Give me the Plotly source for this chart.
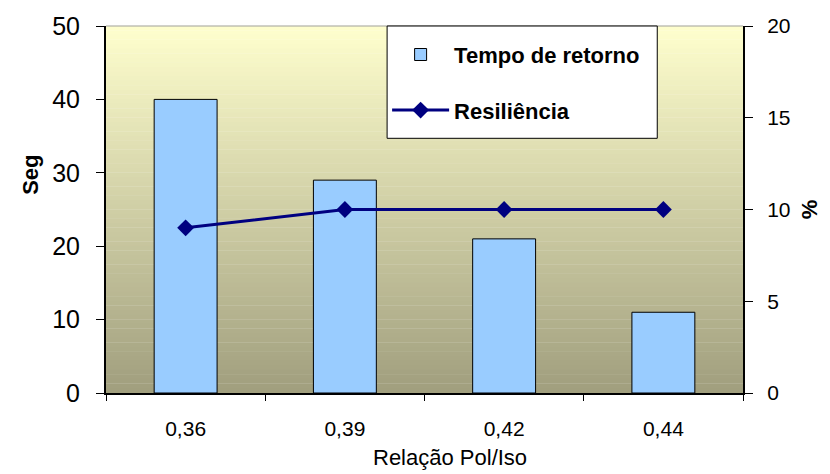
import plotly.graph_objects as go

categories = ["0,36", "0,39", "0,42", "0,44"]
tempo_retorno = [40, 29, 21, 11]
resiliencia = [9, 10, 10, 10]

FONT = "Arial, Liberation Sans, sans-serif"

fig = go.Figure()
fig.add_trace(go.Bar(
    x=categories, y=tempo_retorno, name="<b>Tempo de retorno</b>",
    marker=dict(color="#99CCFF", line=dict(color="#000000", width=1)),
    width=0.395, legendgroup="a",
))
fig.add_trace(go.Scatter(
    x=categories, y=resiliencia, name="<b>Resiliência</b>", yaxis="y2",
    mode="lines+markers",
    line=dict(color="#000080", width=3),
    marker=dict(symbol="diamond", size=13, color="#000080"),
    legendgroup="b",
))

# vertical gradient background for plot area
shapes = []
n = 80
top = (255, 255, 206)
bot = (160, 158, 125)
for i in range(n):
    t = (i + 0.5) / n
    c = tuple(round(top[k] + (bot[k] - top[k]) * t) for k in range(3))
    shapes.append(dict(type="rect", xref="paper", yref="paper",
                       x0=0, x1=1, y0=1 - (i + 1) / n, y1=1 - i / n + 0.001,
                       fillcolor="rgb(%d,%d,%d)" % c, line=dict(width=0),
                       layer="below"))
shapes.append(dict(type="line", xref="paper", yref="paper", x0=0, x1=1, y0=1, y1=1,
                   line=dict(color="#A0A0A0", width=1), layer="below"))
# legend frame
shapes.append(dict(type="rect", xref="paper", yref="paper",
                   x0=0.4413, x1=0.8654, y0=0.694, y1=1.0,
                   fillcolor="white", line=dict(color="black", width=1),
                   layer="below"))

annotations = [
    dict(text="Relação Pol/Iso", xref="paper", yref="paper", x=0.54, y=-0.214,
         xanchor="center", yanchor="bottom", showarrow=False,
         font=dict(size=22, family=FONT, color="black")),
    dict(text="<b>Seg</b>", xref="paper", yref="paper", x=-0.119, y=0.595,
         xanchor="center", yanchor="middle", showarrow=False, textangle=-90,
         font=dict(size=22, family=FONT, color="black")),
]

fig.update_layout(
    width=830, height=474,
    margin=dict(l=106, r=85, t=24, b=81),
    paper_bgcolor="white", plot_bgcolor="rgba(0,0,0,0)",
    font=dict(family=FONT, color="black"),
    shapes=shapes,
    annotations=annotations,
    xaxis=dict(
        type="category", tickson="boundaries", ticks="outside", ticklen=6,
        tickcolor="black", tickwidth=1,
        showline=True, linecolor="black", linewidth=2,
        tickfont=dict(size=21), ticklabelstandoff=16,
        showgrid=False, range=[-0.5, 3.5],
    ),
    yaxis=dict(
        range=[0, 50], dtick=10, ticks="outside", ticklen=8, tickcolor="black",
        showline=True, linecolor="black", linewidth=2, showgrid=False,
        zeroline=False, tickfont=dict(size=25), ticklabelstandoff=11,
    ),
    yaxis2=dict(
        range=[0, 20], dtick=5, ticks="outside", ticklen=8, tickcolor="black",
        showline=True, linecolor="black", linewidth=2, showgrid=False,
        zeroline=False, overlaying="y", side="right", tickfont=dict(size=21),
        ticklabelstandoff=10,
        title=dict(text="<b>%</b>", font=dict(size=22), standoff=12),
    ),
    legend=dict(
        x=0.4413, y=0.979, xanchor="left", yanchor="top",
        bgcolor="rgba(0,0,0,0)", borderwidth=0,
        font=dict(size=22, family=FONT), tracegroupgap=24,
        itemwidth=57,
    ),
    showlegend=True,
)

fig.write_html("out.html", config={"displayModeBar": False},
               post_script="document.body.style.margin='0px';")
